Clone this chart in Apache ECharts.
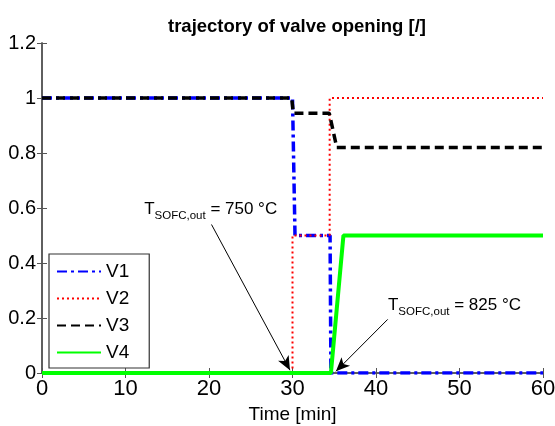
<!DOCTYPE html>
<html>
<head>
<meta charset="utf-8">
<script src="https://cdn.jsdelivr.net/npm/echarts@6/dist/echarts.min.js"></script>
<style>
  html, body { margin: 0; padding: 0; background: #fff; }
  #chart { width: 555px; height: 426px; }
</style>
</head>
<body>
<div id="chart"></div>
<script>
// Valve opening trajectories over time [min]
const v1 = [[0, 1], [30, 1], [30.3, 0.5], [34.5, 0.5], [34.6, 0], [60, 0]];
const v2 = [[0, 0], [30, 0], [30, 0.5], [34.45, 0.5], [34.45, 1], [60, 1]];
const v3 = [[0, 1], [29.9, 1], [30.1, 0.945], [34.4, 0.945], [35.3, 0.82], [60, 0.82]];
const v4 = [[0, 0], [34.6, 0], [36.1, 0.5], [60, 0.5]];

const xTicks = { min: 0, max: 60, interval: 10 };
const yTicks = { min: 0, max: 1.2, interval: 0.2 };

// annotation arrows: text anchor -> pointed event
const note750 = { text: [20.3, 0.54], tip: [29.7, 0.01], label: '750 °C', at: [20.2, 0.594] };
const note825 = { text: [41.4, 0.195], tip: [35.2, 0.006], label: '825 °C', at: [49.4, 0.245] };

const FONT = 'Liberation Sans, Arial, sans-serif';
const AXIS_COLOR = '#555';

function noteLabel(n) {
  return {
    coord: n.at,
    symbol: 'circle',
    symbolSize: 1,
    itemStyle: { color: 'rgba(0,0,0,0)' },
    label: {
      show: true,
      position: 'inside',
      formatter: '{t|T}{s|SOFC,out}{t| = ' + n.label + '}',
      rich: {
        t: { fontSize: 17, color: '#000', fontFamily: FONT },
        s: { fontSize: 11.5, color: '#000', fontFamily: FONT, padding: [13, 0, 0, 0] }
      }
    }
  };
}

function noteArrow(n) {
  return [
    { coord: n.text, symbol: 'none' },
    { coord: n.tip, symbol: 'arrow', symbolSize: [9, 14] }
  ];
}

const chart = echarts.init(document.getElementById('chart'), null, { renderer: 'canvas' });

const axisLine = { show: true, lineStyle: { color: AXIS_COLOR, width: 1.5 } };
const tick = { show: true, inside: true, length: 5, lineStyle: { color: AXIS_COLOR, width: 1 } };

chart.setOption({
  animation: false,
  backgroundColor: '#fff',
  title: {
    text: 'trajectory of valve opening [/]',
    left: 292,
    textAlign: 'center',
    top: 12,
    textStyle: { fontFamily: FONT, fontSize: 18.5, fontWeight: 'bold', color: '#000' }
  },
  grid: { left: 42, right: 12, top: 43, bottom: 53, containLabel: false, outerBoundsMode: 'none' },
  legend: {
    orient: 'vertical',
    left: 49,
    top: 254,
    itemWidth: 44,
    itemHeight: 12,
    itemGap: 8,
    padding: [8, 20, 6, 7],
    borderColor: '#333',
    borderWidth: 1.2,
    backgroundColor: '#fff',
    itemStyle: { color: 'rgba(0,0,0,0)', borderWidth: 0, opacity: 0 },
    textStyle: { fontFamily: FONT, fontSize: 19, color: '#000' },
    data: ['V1', 'V2', 'V3', 'V4']
  },
  xAxis: [
    {
      type: 'value', min: xTicks.min, max: xTicks.max, interval: xTicks.interval,
      name: 'Time [min]', nameLocation: 'middle', nameGap: 30,
      nameTextStyle: { fontFamily: FONT, fontSize: 19, color: '#000' },
      axisLine: axisLine, axisTick: tick, splitLine: { show: false },
      axisLabel: { fontFamily: FONT, fontSize: 22, color: '#000', margin: 5 }
    },
    {
      type: 'value', position: 'top', min: xTicks.min, max: xTicks.max, interval: xTicks.interval,
      axisLine: axisLine, axisTick: tick, splitLine: { show: false }, axisLabel: { show: false }
    }
  ],
  yAxis: [
    {
      type: 'value', min: yTicks.min, max: yTicks.max, interval: yTicks.interval,
      axisLine: axisLine, axisTick: tick, splitLine: { show: false },
      axisLabel: { fontFamily: FONT, fontSize: 20, color: '#000', margin: 6 }
    },
    {
      type: 'value', position: 'right', min: yTicks.min, max: yTicks.max, interval: yTicks.interval,
      axisLine: axisLine, axisTick: tick, splitLine: { show: false }, axisLabel: { show: false }
    }
  ],
  series: [
    {
      name: 'V1', type: 'line', data: v1, symbol: 'none', z: 3,
      lineStyle: { color: '#0000ff', width: 3.5, type: [10, 4, 3, 4] },
      itemStyle: { color: '#0000ff' }
    },
    {
      name: 'V2', type: 'line', data: v2, symbol: 'none', z: 4,
      lineStyle: { color: '#ff0000', width: 2, type: [2, 3] },
      itemStyle: { color: '#ff0000' }
    },
    {
      name: 'V3', type: 'line', data: v3, symbol: 'none', z: 5,
      lineStyle: { color: '#000', width: 3.5, type: [9, 5] },
      itemStyle: { color: '#000' }
    },
    {
      name: 'V4', type: 'line', data: v4, symbol: 'none', z: 6,
      lineStyle: { color: '#00ff00', width: 4, type: 'solid' },
      itemStyle: { color: '#00ff00' },
      markLine: {
        silent: true,
        animation: false,
        label: { show: false },
        lineStyle: { color: '#000', width: 1, type: 'solid' },
        data: [noteArrow(note750), noteArrow(note825)]
      },
      markPoint: {
        silent: true,
        data: [noteLabel(note750), noteLabel(note825)]
      }
    }
  ]
});
</script>
</body>
</html>
